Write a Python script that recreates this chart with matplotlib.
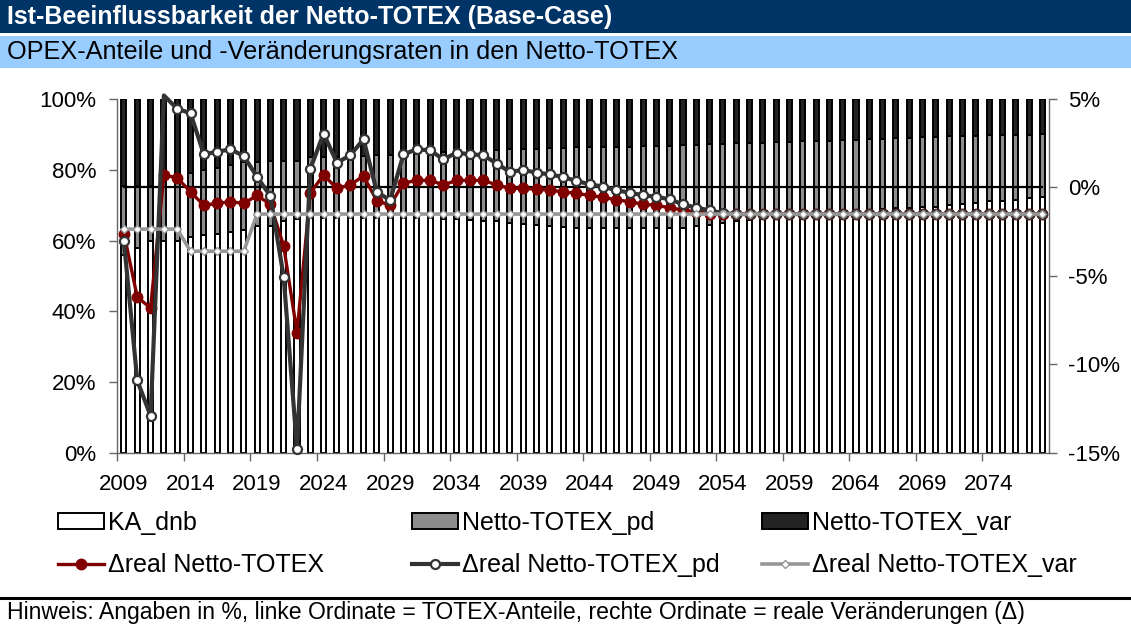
import numpy as np
import matplotlib
matplotlib.use("Agg")
import matplotlib.pyplot as plt
from matplotlib.patches import Rectangle, Patch
from matplotlib.lines import Line2D

plt.rcParams['font.family'] = ['Liberation Sans', 'DejaVu Sans']

# ---------------------------------------------------------------- data
years = list(range(2009, 2079))

# TOTEX shares (left axis, %)
ka_dnb = [56.0, 58.0, 60.0, 60.0, 60.0, 61.0, 61.5, 62.0, 62.5, 63.0,
          64.0, 64.0, 65.5, 66.0, 66.5, 66.5, 66.5, 66.5, 66.5, 66.5,
          66.5, 66.5, 66.5, 66.3, 66.2, 66.0, 65.8, 65.6, 65.4, 65.0,
          64.7, 64.4, 64.1, 63.9, 63.7, 63.5, 63.5, 63.5, 63.5, 63.5,
          63.5, 63.5, 63.7, 64.0, 64.4, 64.9, 65.4, 65.7, 66.0, 66.4,
          66.8, 67.2, 67.5, 67.8, 68.0, 68.3, 68.6, 68.9, 69.1, 69.3,
          69.5, 69.6, 70.0, 70.3, 70.7, 71.1, 71.3, 71.6, 71.9, 72.2]
totex_pd = [19.5, 17.5, 15.5, 18.5, 18.5, 18.0, 18.5, 18.5, 18.9, 19.3,
            18.3, 18.5, 17.0, 16.5, 17.0, 17.2, 17.2, 17.3, 17.5, 17.7,
            17.7, 17.9, 18.1, 18.5, 18.8, 19.1, 19.5, 19.8, 20.2, 20.8,
            21.2, 21.6, 22.0, 22.3, 22.6, 22.8, 22.9, 22.9, 23.0, 23.1,
            23.1, 23.2, 23.2, 23.0, 22.8, 22.4, 22.1, 21.9, 21.7, 21.4,
            21.1, 20.8, 20.5, 20.3, 20.3, 20.1, 20.0, 19.9, 19.8, 19.8,
            19.8, 19.8, 19.5, 19.3, 18.9, 18.6, 18.5, 18.3, 18.0, 17.8]
totex_var = [24.5, 24.5, 24.5, 21.5, 21.5, 21.0, 20.0, 19.5, 18.6, 17.7,
             17.7, 17.5, 17.5, 17.5, 16.5, 16.3, 16.3, 16.2, 16.0, 15.8,
             15.8, 15.6, 15.4, 15.2, 15.0, 14.9, 14.7, 14.6, 14.4, 14.2,
             14.1, 14.0, 13.9, 13.8, 13.7, 13.7, 13.6, 13.6, 13.5, 13.4,
             13.4, 13.3, 13.1, 13.0, 12.8, 12.7, 12.5, 12.4, 12.3, 12.2,
             12.1, 12.0, 12.0, 11.9, 11.7, 11.6, 11.4, 11.2, 11.1, 10.9,
             10.7, 10.6, 10.5, 10.4, 10.4, 10.3, 10.2, 10.1, 10.1, 10.0]

# real changes (right axis, %)
d_totex = [-2.6, -6.2, -6.8, 0.7, 0.55, -0.25, -1.0, -0.9, -0.8, -0.9,
           -0.45, -0.95, -3.3, -8.2, -0.3, 0.7, -0.05, 0.15, 0.65, -0.75,
           -1.0, 0.25, 0.4, 0.4, 0.15, 0.4, 0.4, 0.4, 0.15, -0.05,
           -0.05, -0.1, -0.15, -0.25, -0.33, -0.45, -0.55, -0.7, -0.8, -0.95,
           -1.0, -1.15, -1.27, -1.38, -1.47, -1.5, -1.5, -1.5, -1.5, -1.5,
           -1.5, -1.5, -1.5, -1.5, -1.5, -1.5, -1.5, -1.5, -1.5, -1.5,
           -1.5, -1.5, -1.5, -1.5, -1.5, -1.5, -1.5, -1.5, -1.5, -1.5]
d_totex_pd = [-3.05, -10.9, -12.9, 5.2, 4.45, 4.2, 1.87, 2.02, 2.16, 1.78,
              0.6, -0.48, -5.05, -14.75, 1.05, 3.05, 1.4, 1.82, 2.72, -0.25,
              -0.72, 1.87, 2.16, 2.1, 1.59, 1.97, 1.87, 1.83, 1.35, 0.88,
              0.99, 0.84, 0.74, 0.59, 0.37, 0.18, 0.05, -0.16, -0.29, -0.44,
              -0.52, -0.67, -0.95, -1.14, -1.29, -1.45, -1.5, -1.5, -1.5, -1.5,
              -1.5, -1.5, -1.5, -1.5, -1.5, -1.5, -1.5, -1.5, -1.5, -1.5,
              -1.5, -1.5, -1.5, -1.5, -1.5, -1.5, -1.5, -1.5, -1.5, -1.5]
d_totex_var = [-2.35] * 5 + [-3.6] * 5 + [-1.5] * 60

left_ticks = [0, 20, 40, 60, 80, 100]
right_ticks = [-15, -10, -5, 0, 5]

title = "Ist-Beeinflussbarkeit der Netto-TOTEX (Base-Case)"
subtitle = "OPEX-Anteile und -Veränderungsraten in den Netto-TOTEX"
note = ("Hinweis: Angaben in %, linke Ordinate = TOTEX-Anteile, "
        "rechte Ordinate = reale Veränderungen (\u0394)")

# ---------------------------------------------------------------- colours
NAVY = "#003366"
LIGHT_BLUE = "#99CCFF"
C_PD = "#8c8c8c"
C_VAR = "#232323"
C_RED = "#800000"
C_LPD = "#333333"
C_LVAR = "#969696"
SPINE = "#666666"
FS_TICK = 16
FS_LEG = 18

W, H = 1131, 629
fig = plt.figure(figsize=(W / 100, H / 100), dpi=100)

# header bands
fig.patches.append(Rectangle((0, 1 - 33 / H), 1, 33 / H, transform=fig.transFigure,
                             facecolor=NAVY, edgecolor='none', zorder=0))
fig.patches.append(Rectangle((0, 1 - 68 / H), 1, 32 / H, transform=fig.transFigure,
                             facecolor=LIGHT_BLUE, edgecolor='none', zorder=0))
fig.text(7 / W, 1 - 17 / H, title, color='white', fontweight='bold',
         fontsize=18, va='center', ha='left')
fig.text(7 / W, 1 - 52.5 / H, subtitle, color='black', fontsize=18.2,
         va='center', ha='left')

# footer rule and note
fig.add_artist(Line2D([0, 1], [1 - 598 / H, 1 - 598 / H], transform=fig.transFigure,
                      color='black', lw=2.2))
fig.text(7 / W, 1 - 613 / H, note, fontsize=16.6, va='center', ha='left')

# ---------------------------------------------------------------- bars (left axis)
ax = fig.add_axes([117.3 / W, 1 - 453 / H, (1049 - 117.3) / W, (453 - 99) / H])
x = np.arange(len(years))
bw = 0.38
edge = dict(edgecolor='black', linewidth=1.4)
ax.bar(x, ka_dnb, bw, color='white', **edge)
ax.bar(x, totex_pd, bw, bottom=ka_dnb, color=C_PD, **edge)
ax.bar(x, totex_var, bw, bottom=np.add(ka_dnb, totex_pd), color=C_VAR, **edge)

ax.set_xlim(-0.5, len(years) - 0.5)
ax.set_ylim(0, 100)
ax.set_yticks(left_ticks)
ax.set_yticklabels([f"{t}%" for t in left_ticks])
ax.set_xticks(np.arange(-0.5, len(years) - 1, 5))
ax.set_xticklabels([])
ax.set_xticks(x[::5], minor=True)
ax.set_xticklabels([str(y) for y in years[::5]], minor=True)
ax.tick_params(axis='x', which='major', length=6, width=1, color=SPINE, direction='out')
ax.tick_params(axis='x', which='minor', length=0, pad=15, labelsize=FS_TICK)
ax.tick_params(axis='y', length=6, width=1, color=SPINE, direction='out', pad=9,
               labelsize=FS_TICK)
for s in ('top', 'right'):
    ax.spines[s].set_visible(False)
for s in ('left', 'bottom'):
    ax.spines[s].set_color(SPINE)
    ax.spines[s].set_linewidth(1)

# ---------------------------------------------------------------- lines (right axis)
ax2 = ax.twinx()
ax2.set_ylim(-15, 5)
ax2.set_yticks(right_ticks)
ax2.set_yticklabels([f"{t}%" for t in right_ticks])
ax2.tick_params(axis='y', length=6, width=1, color=SPINE, direction='out', pad=8,
                labelsize=FS_TICK)
for s in ('top', 'left', 'bottom'):
    ax2.spines[s].set_visible(False)
ax2.spines['right'].set_color(SPINE)
ax2.spines['right'].set_linewidth(1)

ax2.plot(x, np.zeros(len(years)), color='black', lw=1.6, zorder=1)
ax2.plot(x, d_totex, color=C_RED, lw=2.4, marker='o', ms=7.5,
         mfc=C_RED, mec=C_RED, zorder=2)
visible_pd = [i for i, v in enumerate(d_totex_pd) if v <= 5]
ax2.plot(x, d_totex_pd, color=C_LPD, lw=3.0, marker='o', ms=6.5,
         mfc='white', mec=C_LPD, mew=1.6, zorder=3, clip_on=False,
         markevery=visible_pd)
ax2.plot(x, d_totex_var, color=C_LVAR, lw=2.6, marker='D', ms=4.2,
         mfc='white', mec=C_LVAR, mew=1.0, zorder=4)

# ---------------------------------------------------------------- legend
h_ka = Patch(facecolor='white', edgecolor='black', linewidth=1.4)
h_pd = Patch(facecolor=C_PD, edgecolor='black', linewidth=1.4)
h_var = Patch(facecolor=C_VAR, edgecolor='black', linewidth=1.4)
h_ltot = Line2D([], [], color=C_RED, lw=2.4, marker='o', ms=7.5, mfc=C_RED, mec=C_RED)
h_lpd = Line2D([], [], color=C_LPD, lw=3.0, marker='o', ms=6.5, mfc='white',
               mec=C_LPD, mew=1.6)
h_lvar = Line2D([], [], color=C_LVAR, lw=2.6, marker='D', ms=4.2, mfc='white',
                mec=C_LVAR, mew=1.0)

columns = [
    (58, [h_ka, h_ltot], ["KA_dnb", "\u0394real Netto-TOTEX"]),
    (412, [h_pd, h_lpd], ["Netto-TOTEX_pd", "\u0394real Netto-TOTEX_pd"]),
    (762, [h_var, h_lvar], ["Netto-TOTEX_var", "\u0394real Netto-TOTEX_var"]),
]
for xl, hs, labels in columns:
    fig.legend(hs, labels, loc='upper left', bbox_to_anchor=(xl / W, 1 - 511 / H),
               frameon=False, fontsize=FS_LEG, borderpad=0, borderaxespad=0,
               handlelength=1.85, handleheight=0.6, handletextpad=0.15,
               labelspacing=0.72, numpoints=1)

fig.savefig("out.png", dpi=100)
